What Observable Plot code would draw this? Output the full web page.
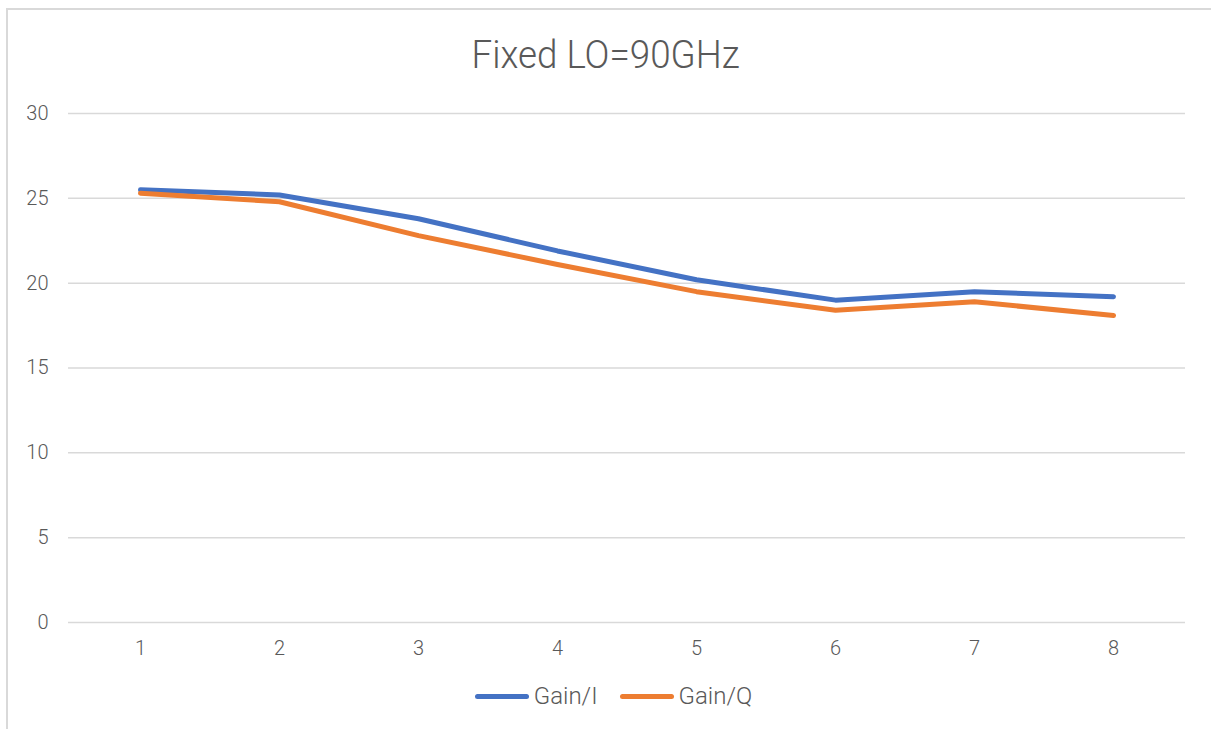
<!DOCTYPE html>
<html>
<head>
<meta charset="utf-8">
<script src="https://cdn.jsdelivr.net/npm/d3@7"></script>
<script src="https://cdn.jsdelivr.net/npm/@observablehq/plot@0.6"></script>
<style>
  html, body { margin: 0; padding: 0; background: #fff; }
  #wrap { position: relative; width: 1211px; height: 729px; overflow: hidden; font-family: Roboto, "Open Sans", sans-serif; color: #595959; }
  #border { position: absolute; left: 6px; top: 8px; right: -10px; bottom: -10px; border-left: 2px solid #d9d9d9; border-top: 2px solid #d9d9d9; }
  #chart { position: absolute; left: 0; top: 0; }
  #title { position: absolute; left: 0; width: 1211px; top: 33px; text-align: center; font-size: 38px; font-weight: 300; color: #595959; white-space: nowrap; }
  #title span { display: inline-block; transform-origin: center; }
  #legend { position: absolute; left: 8px; width: 1211px; top: 682px; display: flex; justify-content: center; align-items: center; font-size: 24px; font-weight: 300; color: #595959; }
  .item { display: flex; align-items: center; margin: 0 11px; }
  .sw { width: 54px; height: 5px; border-radius: 3px; margin-right: 5px; }
  #chart svg text { font-weight: 300; }
</style>
</head>
<body>
<div id="wrap">
  <div id="border"></div>
  <div id="chart"></div>
  <div id="title"><span id="tt">Fixed LO=90GHz</span></div>
  <div id="legend"></div>
</div>
<script>
const categories = [1, 2, 3, 4, 5, 6, 7, 8];
const gainI = [25.5, 25.2, 23.8, 21.9, 20.2, 19.0, 19.5, 19.2];
const gainQ = [25.3, 24.8, 22.8, 21.1, 19.5, 18.4, 18.9, 18.1];
const seriesNames = ["Gain/I", "Gain/Q"];
const seriesColors = ["#4472C4", "#ED7D31"];
const yTicks = [0, 5, 10, 15, 20, 25, 30];

const data = [];
categories.forEach((c, i) => {
  data.push({x: c, y: gainI[i], s: seriesNames[0]});
  data.push({x: c, y: gainQ[i], s: seriesNames[1]});
});

const plot = Plot.plot({
  width: 1211,
  height: 729,
  marginTop: 113,
  marginBottom: 107,
  marginLeft: 68,
  marginRight: 26,
  style: {fontFamily: "Roboto, 'Open Sans', sans-serif", fontSize: "20px", color: "#595959", background: "transparent"},
  x: {type: "point", domain: categories, padding: 0.5},
  y: {domain: [0, 30]},
  color: {domain: seriesNames, range: seriesColors},
  marks: [
    Plot.gridY(yTicks, {stroke: "#d9d9d9", strokeOpacity: 1, strokeWidth: 1.5}),
    Plot.axisY(yTicks, {tickSize: 0, tickPadding: 20, label: null, fontSize: 20}),
    Plot.axisX(categories, {tickSize: 0, tickPadding: 18, label: null, fontSize: 20}),
    Plot.line(data, {x: "x", y: "y", z: "s", stroke: "s", strokeWidth: 5, strokeLinejoin: "round", strokeLinecap: "round"})
  ]
});
document.getElementById("chart").appendChild(plot);

const legend = document.getElementById("legend");
seriesNames.forEach((n, i) => {
  const it = document.createElement("div");
  it.className = "item";
  const sw = document.createElement("div");
  sw.className = "sw";
  sw.style.background = seriesColors[i];
  const t = document.createElement("span");
  t.textContent = n;
  it.appendChild(sw); it.appendChild(t);
  legend.appendChild(it);
});

// fit title width to ~268px
const tt = document.getElementById("tt");
const w = tt.getBoundingClientRect().width;
tt.style.transform = `scaleX(${268 / w})`;
</script>
</body>
</html>
